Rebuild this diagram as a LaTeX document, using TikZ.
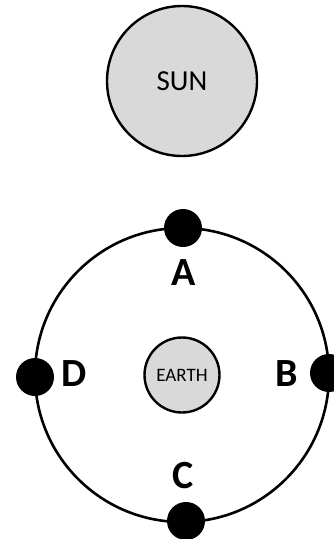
\documentclass[tikz,border=0pt]{standalone}
\usepackage{fontspec}
\setmainfont{Carlito}
\begin{document}
\begin{tikzpicture}[x=1pt,y=-1pt,
  body/.style={circle,draw=black,fill=black!15,line width=2.4pt,inner sep=0pt},
  planet/.style={circle,fill=black,inner sep=0pt,minimum size=38pt},
  lbl/.style={font=\bfseries\fontsize{40pt}{42pt}\selectfont,inner sep=0pt}]
\useasboundingbox (0,0) rectangle (333,539);
\node[body,minimum size=150pt,font=\fontsize{29pt}{31pt}\selectfont] (sun) at (182,81) {SUN};
\draw[line width=2.6pt] (182,375) circle (147);
\node[body,minimum size=75pt,font=\fontsize{19pt}{21pt}\selectfont] (earth) at (182,375) {EARTH};
\node[planet] (pa) at (183,228) {};
\node[planet] (pb) at (329,373) {};
\node[planet] (pc) at (186,521) {};
\node[planet] (pd) at (35,377) {};
\node[lbl] (la) at (184,273) {A};
\node[lbl] (lb) at (287,374) {B};
\node[lbl] (lc) at (183,476) {C};
\node[lbl] (ld) at (74,374) {D};
\end{tikzpicture}
\end{document}
